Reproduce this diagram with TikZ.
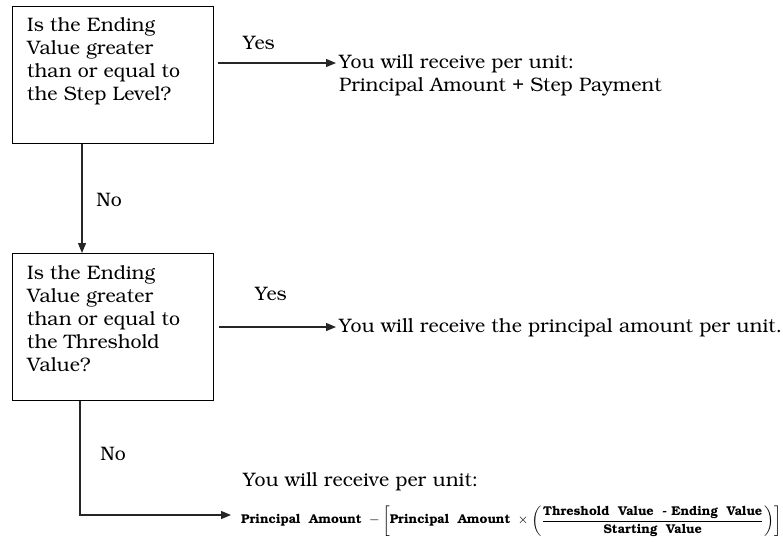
\documentclass[tikz,border=0pt]{standalone}
\usepackage[T1]{fontenc}
\usepackage{bookman}
\usepackage{amsmath}
\usepackage{graphicx}
\usetikzlibrary{arrows.meta}
\tikzset{
  qbox/.style={draw=black, line width=1.4pt, minimum width=201pt, inner sep=0pt, anchor=north west},
  qtext/.style={anchor=north west, inner sep=0pt, align=left, font=\fontsize{19.5}{23}\selectfont},
  lbl/.style={inner sep=0pt, font=\fontsize{19.5}{23}\selectfont},
  ans/.style={anchor=west, inner sep=0pt, align=left, font=\fontsize{19.5}{23}\selectfont},
  conn/.style={line width=1.2pt, draw=black!85},
  arr/.style={conn, -{Triangle[length=10pt,width=8pt]}}
}
\begin{document}
\begin{tikzpicture}[x=1pt,y=-1pt]
\useasboundingbox (0,0) rectangle (783,541);
% boxes
\node[qbox, minimum height=137pt] (q1) at (12,6) {};
\node[qtext] (q1t) at (27,18) {Is the Ending\\Value greater\\than or equal to\\the Step Level?};
\node[qbox, minimum height=147pt] (q2) at (12,253) {};
\node[qtext] (q2t) at (27,266) {Is the Ending\\Value greater\\than or equal to\\the Threshold\\Value?};
% answers
\coordinate (t1) at (336,63);
\node[ans, anchor=north west] (a1) at (339,55) {You will receive per unit:\\Principal Amount + Step Payment};
\coordinate (t2) at (336,327);
\node[ans] (a2) at (339,328) {You will receive the principal amount per unit.};
\coordinate (c3) at (80,515);
\coordinate (t3) at (231,515);
\node[ans] (a3a) at (243,482) {You will receive per unit:};
\node[anchor=west, inner sep=0pt] (a3b) at (241,521) {\resizebox{540pt}{!}{\bfseries\footnotesize
$\text{Principal\ \ Amount}\ -\left[\text{Principal\ \ Amount}\ \times\left(\dfrac{\text{Threshold\ \ Value\ \ - Ending\ \ Value}}{\text{Starting\ \ Value}}\right)\right]$}};
% connectors
\draw[arr] ([xshift=4pt]q1.east |- t1) -- (t1);
\node[lbl] (y1) at (259,43) {Yes};
\draw[arr] ([xshift=70pt]q1.south west) -- ([xshift=70pt]q2.north west);
\node[lbl] (n1) at (109,200) {No};
\draw[arr] ([xshift=5pt]q2.east |- t2) -- (t2);
\node[lbl] (y2) at (271,294) {Yes};
\draw[arr] ([xshift=68pt]q2.south west) -- (c3) -- (t3);
\node[lbl] (n2) at (113,454) {No};
\end{tikzpicture}
\end{document}
